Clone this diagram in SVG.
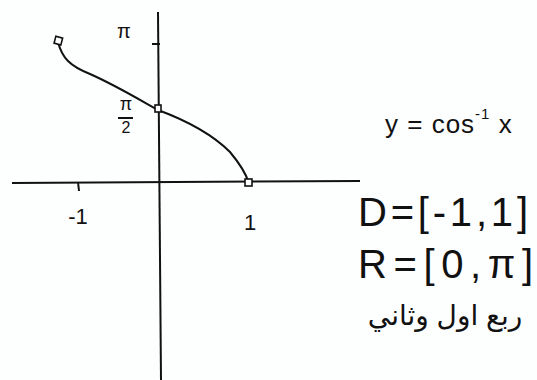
<svg xmlns="http://www.w3.org/2000/svg" width="537" height="380" viewBox="0 0 537 380">
<style>
.ax{stroke:#111;stroke-width:2;fill:none}
.cv{stroke:#111;stroke-width:2;fill:none}
.pt{stroke:#111;stroke-width:1.6;fill:#fff}
.t{font-family:"Liberation Sans","DejaVu Sans",sans-serif;fill:#111}
</style>
<rect width="537" height="380" fill="#fdfefe"/>
<g id="connectors">
<path class="ax" d="M12 183 L360 181"/>
<path class="ax" d="M158 12 L161 380"/>
<path class="ax" d="M152 44 L160 44"/>
<path class="ax" d="M78 182 L79 191"/>
<path class="cv" d="M58 42 C62 58 70 66 90 74 C115 85 140 100 158 110 C185 120 210 132 230 152 C240 164 246 174 249 183"/>
</g>
<g id="p1"><rect class="pt" x="55" y="37" width="7" height="7" transform="rotate(15 58 40)"/></g>
<g id="p2"><rect class="pt" x="155" y="105" width="6" height="7"/></g>
<g id="p3"><rect class="pt" x="245" y="179" width="7" height="7"/></g>
<g id="labels">
<text class="t" x="124" y="38" font-size="20" text-anchor="middle">π</text>
<text class="t" x="126" y="110" font-size="18" text-anchor="middle">π</text>
<path class="ax" d="M118 118 L133 118" stroke-width="1.5"/>
<text class="t" x="126" y="133" font-size="16" text-anchor="middle">2</text>
<text class="t" x="78" y="224" font-size="22" text-anchor="middle">-1</text>
<text class="t" x="250" y="230" font-size="22" text-anchor="middle">1</text>
<text class="t" x="385" y="133" font-size="26" letter-spacing="1">y = cos<tspan font-size="15" dy="-14">-1</tspan><tspan dy="14"> x</tspan></text>
<text class="t" x="358" y="226" font-size="40" textLength="170" lengthAdjust="spacing">D=[-1,1]</text>
<text class="t" x="358" y="278" font-size="40" textLength="175" lengthAdjust="spacing">R=[0,π]</text>
<text class="t" x="445" y="325" font-size="28" text-anchor="middle" direction="rtl">ربع اول وثاني</text>
</g>
</svg>
